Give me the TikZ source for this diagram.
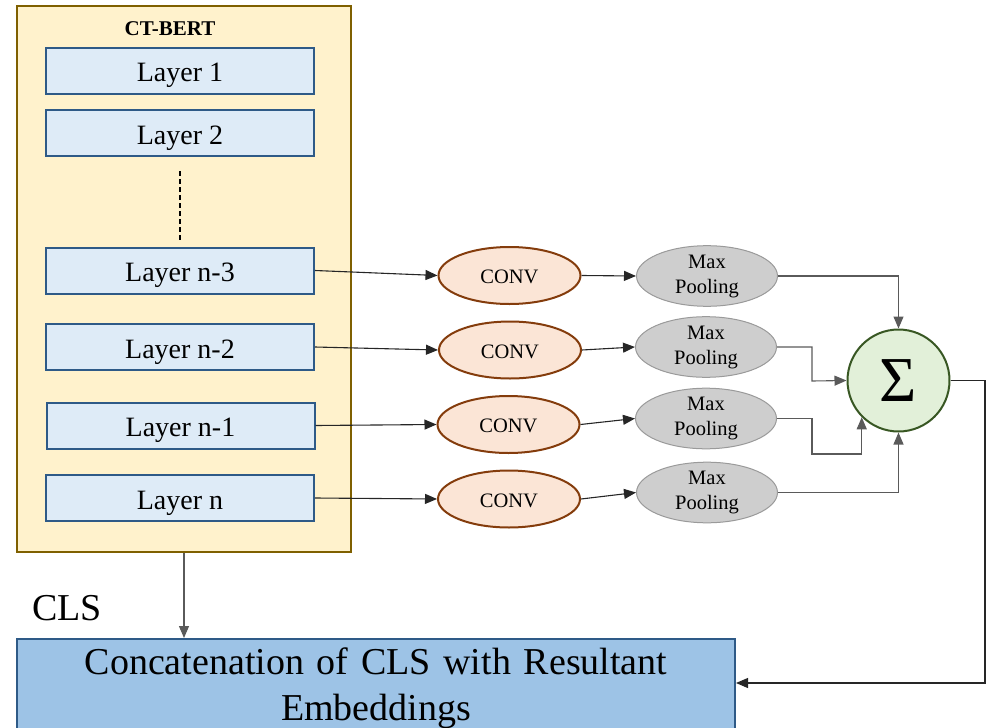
\documentclass[tikz,border=0pt]{standalone}
\usepackage{fontspec}
\setmainfont{Liberation Serif}
\usetikzlibrary{arrows.meta,shapes.geometric}
\definecolor{bertfill}{HTML}{FFF2CC}
\definecolor{bertdraw}{HTML}{7F6000}
\definecolor{layfill}{HTML}{DEEBF7}
\definecolor{laydraw}{HTML}{2E5A87}
\definecolor{convfill}{HTML}{FBE5D6}
\definecolor{convdraw}{HTML}{843C0C}
\definecolor{poolfill}{HTML}{CECECE}
\definecolor{pooldraw}{HTML}{9A9A9A}
\definecolor{sigfill}{HTML}{E2F0D9}
\definecolor{sigdraw}{HTML}{385723}
\definecolor{catfill}{HTML}{9DC3E6}
\definecolor{linegray}{HTML}{262626}
\definecolor{lightline}{HTML}{5A5A5A}
\tikzset{
  bertbox/.style={draw=bertdraw, fill=bertfill, line width=2pt, rectangle, minimum width=334pt, minimum height=546pt, inner sep=0pt},
  layerbox/.style={draw=laydraw, fill=layfill, line width=2pt, rectangle, minimum width=268pt, minimum height=46pt, inner sep=0pt, text height=22pt, text depth=0pt, font=\fontsize{28}{34}\selectfont},
  convnode/.style={draw=convdraw, fill=convfill, line width=2pt, ellipse, minimum width=142pt, minimum height=57pt, inner sep=0pt, text height=16pt, text depth=0pt, font=\fontsize{20.5}{25}\selectfont},
  poolnode/.style={draw=pooldraw, fill=poolfill, line width=1pt, ellipse, minimum width=141pt, minimum height=52pt, inner sep=0pt, align=center, font=\fontsize{20.5}{25}\selectfont},
  signode/.style={draw=sigdraw, fill=sigfill, line width=2pt, circle, minimum size=102pt, inner sep=0pt, font=\fontsize{64}{68}\selectfont},
  catbox/.style={draw=laydraw, fill=catfill, line width=2pt, rectangle, minimum width=718pt, inner xsep=9pt, inner ysep=9pt, text width=700pt, align=center, font=\fontsize{38}{46}\selectfont},
  arr/.style={-{Triangle[length=12pt,width=10pt]}, line width=1.1pt},
}
\begin{document}
\begin{tikzpicture}[x=1pt,y=-1pt]
\useasboundingbox (0,0) rectangle (986,728);
% CT-BERT container
\node[bertbox] (bert) at (184,279) {};
\node[font=\fontsize{21}{25}\selectfont\bfseries] (title) at (170,29) {CT-BERT};
% layers
\node[layerbox] (l1) at (180,70.5) {Layer 1};
\node[layerbox] (l2) at (180,133) {Layer 2};
\node[layerbox] (ln3) at (180,270.5) {Layer n-3};
\node[layerbox] (ln2) at (180,347) {Layer n-2};
\node[layerbox] (ln1) at (180.5,425.5) {Layer n-1};
\node[layerbox] (ln) at (180,498) {Layer n};
\coordinate (d1) at (180,171);
\coordinate (d2) at (180,241);
\draw[line width=1.2pt, dash pattern=on 5pt off 3pt] (d1) -- (d2);
% conv
\node[convnode] (c1) at (509.5,275.5) {CONV};
\node[convnode] (c2) at (510,350) {CONV};
\node[convnode] (c3) at (508.5,424.5) {CONV};
\node[convnode] (c4) at (509,499) {CONV};
% pooling
\node[poolnode] (p1) at (707,276) {Max\\Pooling};
\node[poolnode] (p2) at (706,347) {Max\\Pooling};
\node[poolnode] (p3) at (706,418.5) {Max\\Pooling};
\node[poolnode] (p4) at (707,492.5) {Max\\Pooling};
% sigma
\node[signode] (sig) at (898.5,380.5) {Σ};
% concat
\node[catbox, anchor=north] (cat) at (376,638) {Concatenation of CLS with Resultant\\Embeddings};
\node[font=\fontsize{38}{44}\selectfont] (cls) at (67,608) {CLS};
% layer -> conv
\draw[arr, draw=linegray] (ln3.east) -- (c1.west);
\draw[arr, draw=linegray] (ln2.east) -- (c2.west);
\draw[arr, draw=linegray] (ln1.east) -- (c3.west);
\draw[arr, draw=linegray] (ln.east) -- (c4.west);
% conv -> pool
\draw[arr, draw=linegray] (c1.east) -- (p1.west);
\draw[arr, draw=linegray] (c2.east) -- (p2.west);
\draw[arr, draw=linegray] (c3.east) -- (p3.west);
\draw[arr, draw=linegray] (c4.east) -- (p4.west);
% pool -> sigma
\coordinate (b2) at (812,381);
\coordinate (b3) at (812,454);
\draw[arr, draw=lightline] (p1.east) -| (sig.north);
\draw[arr, draw=lightline] (p2.east) -| (b2) -- (sig.west);
\draw[arr, draw=lightline] (p3.east) -| (b3) -| (sig.south west);
\draw[arr, draw=lightline] (p4.east) -| (sig.south);
% sigma -> concat
\coordinate (r) at (985,683);
\draw[arr, draw=linegray] (sig.east) -| (r) -- (r -| cat.east);
% CLS
\draw[arr, draw=lightline] (bert.south) -- (bert.south |- cat.north);
\end{tikzpicture}
\end{document}
